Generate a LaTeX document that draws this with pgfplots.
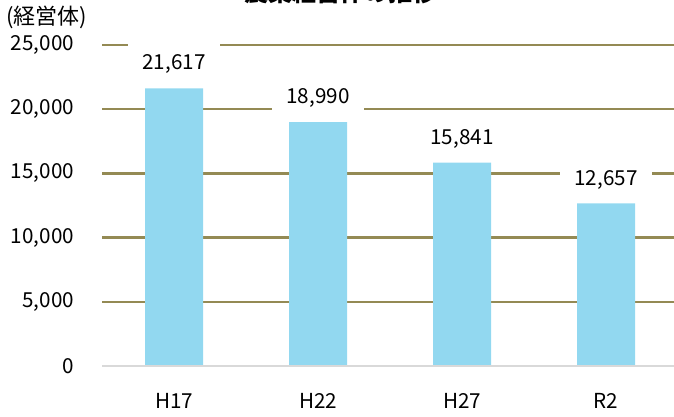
\documentclass[border=0pt]{standalone}
\usepackage{pgfplots}
\usepackage{pgfplotstable}
\pgfplotsset{compat=1.18}
\usepackage{fontspec}
\setmainfont{Noto Sans CJK JP}
\definecolor{barblue}{RGB}{146,216,240}
\definecolor{gridolive}{RGB}{148,138,84}
\definecolor{zerogray}{RGB}{217,217,217}
\pgfplotstableread{
x y lab
0 21617 21,617
1 18990 18,990
2 15841 15,841
3 12657 12,657
}\farmdata
\begin{document}
\begin{tikzpicture}
\begin{axis}[
  at={(76.5pt,38.25pt)}, anchor=south west,
  scale only axis, width=432pt, height=240.75pt,
  xmin=-0.5, xmax=3.5, ymin=0, ymax=25000,
  axis line style={draw=none},
  major tick length=0pt,
  xtick={0,1,2,3}, xticklabels={H17,H22,H27,R2},
  ytick={5000,10000,15000,20000,25000},
  extra y ticks={0}, extra y tick style={grid=none},
  ymajorgrids, grid style={gridolive, line width=1.7pt},
  /pgf/number format/.cd, 1000 sep={,}, assume math mode=true, /pgfplots/.cd,
  scaled y ticks=false,
  ticklabel style={font=\fontsize{15.5}{18}\selectfont},
  yticklabel style={anchor=east, xshift=-17.5pt},
  xticklabel style={anchor=north, yshift=-17pt},
  clip=false,
]
\addplot[ybar, bar width=43.5pt, fill=barblue, draw=none,
  point meta=explicit symbolic,
  nodes near coords={\pgfplotspointmeta},
  nodes near coords style={anchor=center, yshift=18pt, fill=white,
    minimum width=69pt, minimum height=32pt, inner sep=0pt,
    font=\fontsize{15.5}{18}\selectfont}]
  table[x=x, y=y, meta=lab] {\farmdata};
\draw[zerogray, line width=1.5pt] (axis cs:-0.5,0) -- (axis cs:3.5,0);
\end{axis}
\node[anchor=base, font=\bfseries\fontsize{18}{20}\selectfont] at (255pt,311.6pt) {農業経営体の推移};
\node[anchor=base west, font=\fontsize{16.5}{18}\selectfont, inner sep=0pt] at (4.5pt,294pt) {(経営体)};
\pgfresetboundingbox
\useasboundingbox (0pt,0pt) rectangle (505.5pt,312.75pt);
\end{tikzpicture}
\end{document}
